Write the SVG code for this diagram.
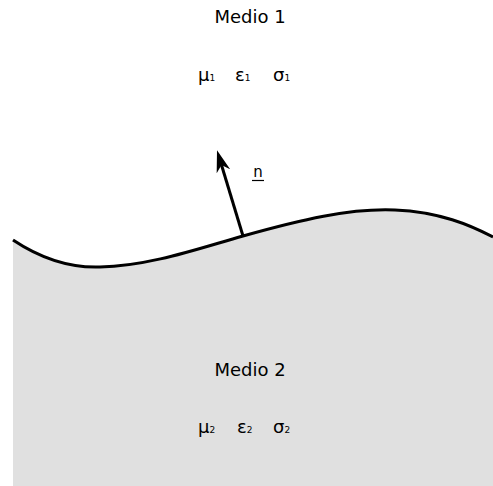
<svg xmlns="http://www.w3.org/2000/svg" width="493" height="486" viewBox="0 0 493 486">
<style>
.t{font-family:"DejaVu Sans",Verdana,sans-serif;fill:#000}
.h{font-size:18px}
.g{font-size:18px}
.s{font-size:9px}
</style>
<defs>
<marker id="ah" markerUnits="userSpaceOnUse" markerWidth="22" markerHeight="14" refX="6.5" refY="7" orient="auto" viewBox="0 0 22 14">
<path d="M22,7 L0,0 L6.5,7 L0,14 Z" fill="#000"/>
</marker>
</defs>
<rect width="493" height="486" fill="#fff"/>
<g id="medio2-region">
<path d="M13,240 C40,258 70,268 100,267 C150,266 200,248 243,236 C300,220 350,208 395,210 C440,212 470,225 493,237 L493,486 L13,486 Z" fill="#e0e0e0"/>
</g>
<g id="connectors">
<path id="interface" d="M13,240 C40,258 70,268 100,267 C150,266 200,248 243,236 C300,220 350,208 395,210 C440,212 470,225 493,237" fill="none" stroke="#000" stroke-width="3"/>
<line id="normal" x1="243" y1="236" x2="221.5" y2="165" stroke="#000" stroke-width="3" marker-end="url(#ah)"/>
</g>
<g id="medio1">
<text class="t h" x="250" y="23" text-anchor="middle">Medio 1</text>
<text class="t g" x="198" y="81">μ<tspan class="s">1</tspan></text>
<text class="t g" x="235" y="81">ε<tspan class="s">1</tspan></text>
<text class="t g" x="273" y="81">σ<tspan class="s">1</tspan></text>
</g>
<g id="normal-label">
<text class="t" x="258" y="177" font-size="15" text-anchor="middle">n</text>
<line x1="252" y1="180.5" x2="264" y2="180.5" stroke="#000" stroke-width="1.2"/>
</g>
<g id="medio2">
<text class="t h" x="250" y="376" text-anchor="middle">Medio 2</text>
<text class="t g" x="198" y="433">μ<tspan class="s">2</tspan></text>
<text class="t g" x="237" y="433">ε<tspan class="s">2</tspan></text>
<text class="t g" x="273" y="433">σ<tspan class="s">2</tspan></text>
</g>
</svg>
